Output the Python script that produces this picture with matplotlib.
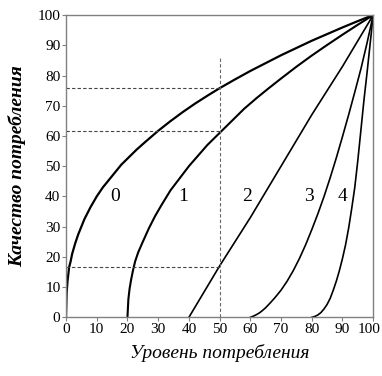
import matplotlib
matplotlib.use("Agg")
import matplotlib.pyplot as plt
from matplotlib.transforms import ScaledTranslation

# curve readings (x = level of consumption, y = quality)
x0 = [0, 0.2, 0.5, 1, 1.5, 2, 3, 4, 5, 6, 8, 10, 12, 14, 16, 18, 20, 23, 26, 30,
      34, 38, 42, 46, 50, 55, 60, 65, 70, 75, 80, 85, 90, 95, 100]
y0 = [0, 8, 12, 16.5, 18.5, 21, 24.5, 27.5, 30, 32.5, 36.5, 40, 43, 45.5, 48, 50.5, 52.5, 55.5, 58.2, 61.7,
      64.9, 67.9, 70.7, 73.3, 75.8, 78.7, 81.5, 84.1, 86.7, 89.1, 91.5, 93.7, 95.9, 98, 100]

x1 = [20, 20.3, 20.7, 21.2, 21.8, 22.5, 23.5, 25, 27, 29, 31, 34, 37, 40, 43, 46, 50,
      54, 58, 62, 66, 70, 75, 80, 85, 90, 95, 100]
y1 = [0, 6, 9.5, 12.5, 15.5, 18.5, 21.5, 25, 29.5, 33.5, 37, 42, 46, 50, 53.5, 57, 61,
      65, 69, 72.5, 75.8, 79, 82.9, 86.6, 90.1, 93.5, 96.8, 100]

x2 = [40, 50, 60, 70, 80, 90, 100]
y2 = [0, 17, 33, 50, 67, 83, 100]

x3 = [60, 61, 62, 63, 64, 65, 66.5, 68, 70, 72, 74, 76, 78, 80, 82, 84, 86, 88, 90,
      92, 94, 96, 98, 100]
y3 = [0, 0.4, 0.9, 1.5, 2.3, 3.2, 4.8, 6.5, 9, 12, 15.5, 19.5, 24, 29, 34.3, 40, 46.2, 52.8, 59.8,
      67, 74.5, 82.2, 90.8, 100]

x4 = [80, 81, 82, 83, 84, 85, 86, 87, 88, 89, 90, 91, 92, 93, 94, 95, 96, 97, 98, 99, 100]
y4 = [0, 0.3, 0.8, 1.6, 2.8, 4.3, 6.3, 9, 12, 15.5, 19.5, 24, 29.5, 36, 43, 52, 62, 72, 81, 90.5, 100]

curve_labels = ["0", "1", "2", "3", "4"]
label_x = [16, 38, 59, 79, 90]
label_y = 40

# dashed guides at x = 50
guide_x = 50
guide_levels = [76, 61.5, 16.5]
guide_top = 86

serif = "Liberation Serif"

fig = plt.figure(figsize=(3.82, 3.76), dpi=100)
ax = fig.add_axes([0.1728, 0.156, 0.8042, 0.804])

for xs, ys, lw in [(x0, y0, 1.6), (x1, y1, 1.5), (x2, y2, 1.2), (x3, y3, 1.2), (x4, y4, 1.2)]:
    ax.plot(xs, ys, color="black", linewidth=lw, solid_joinstyle="round")

for lvl in guide_levels:
    ax.plot([0, guide_x], [lvl, lvl], color="#444444", linewidth=0.8, linestyle=(0, (3, 2)))
ax.plot([guide_x, guide_x], [0, guide_top], color="#666666", linewidth=0.8, linestyle=(0, (3, 2)))

for lab, lx in zip(curve_labels, label_x):
    ax.text(lx, label_y, lab, fontsize=14, family=serif, ha="center", va="center")

ax.set_xlim(0, 100)
ax.set_ylim(0, 100)
ax.set_xticks(range(0, 101, 10))
ax.set_yticks(range(0, 101, 10))
for sp in ax.spines.values():
    sp.set_color("#808080")
    sp.set_linewidth(1.0)
ax.tick_params(direction="out", length=3, width=0.8, color="#808080", pad=1)
for t in ax.get_xticklabels() + ax.get_yticklabels():
    t.set_family(serif)
    t.set_fontsize(11)

# keep the last x tick label inside the figure
last = ax.get_xticklabels()[-1]
last.set_transform(last.get_transform() + ScaledTranslation(-3 / 72, 0, fig.dpi_scale_trans))

ax.set_xlabel("Уровень потребления", family=serif, style="italic", fontsize=14, labelpad=6)
ax.set_ylabel("Качество потребления", family=serif, style="italic", weight="bold",
              fontsize=14, labelpad=8)

fig.savefig("out.png", dpi=100)
